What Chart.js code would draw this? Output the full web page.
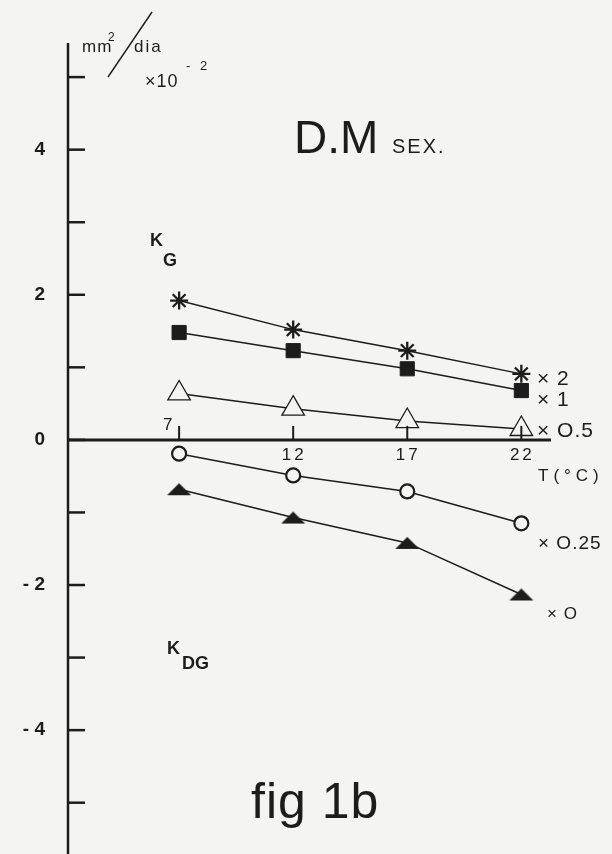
<!DOCTYPE html>
<html>
<head>
<meta charset="utf-8">
<script src="https://cdn.jsdelivr.net/npm/chart.js@4/dist/chart.umd.min.js"></script>
<style>
  html, body { margin: 0; padding: 0; background: #f4f4f2; }
  #wrap { width: 612px; height: 854px; }
</style>
</head>
<body>
<div id="wrap"><canvas id="c" width="612" height="854"></canvas></div>
<script>
// ---- data (K values, ×10^-2 mm²/dia) ----
const temps = [7, 12, 17, 22];
const kStar = [1.92, 1.52, 1.23, 0.91];       // × 2
const kSquare = [1.48, 1.23, 0.98, 0.68];     // × 1
const kOpenTri = [0.64, 0.43, 0.26, 0.15];    // × 0.5
const kCircle = [-0.19, -0.49, -0.71, -1.15]; // × 0.25
const kFilledTri = [-0.68, -1.07, -1.42, -2.13]; // × 0
const factorLabels = ['× 2', '× 1', '× O.5', '× O.25', '× O'];
const yTickValues = [-5, -4, -3, -2, -1, 0, 1, 2, 3, 4, 5];
const yLabelValues = [-4, -2, 0, 2, 4];
const yLabelTexts = ['- 4', '- 2', '0', '2', '4'];
const xTickLabels = ['7', '12', '17', '22'];

const INK = '#1c1c1c';
const BG = '#f4f4f2';

function pts(arr) { return temps.map((t, i) => ({ x: t, y: arr[i] })); }

// flat filled triangle marker
const flatTri = document.createElement('canvas');
flatTri.width = 26; flatTri.height = 14;
(function () {
  const c = flatTri.getContext('2d');
  c.fillStyle = INK;
  c.beginPath(); c.moveTo(1, 13); c.lineTo(25, 13); c.lineTo(13, 1); c.closePath(); c.fill();
})();

const axesPlugin = {
  id: 'axesPlugin',
  beforeDatasetsDraw(chart) {
    const { ctx, chartArea, scales: { x, y } } = chart;
    const left = chartArea.left, right = chartArea.right;
    ctx.save();
    ctx.strokeStyle = INK;
    ctx.lineCap = 'butt';
    // y axis
    ctx.lineWidth = 2.5;
    ctx.beginPath(); ctx.moveTo(left, chartArea.top); ctx.lineTo(left, chart.height); ctx.stroke();
    // y ticks (inward)
    yTickValues.forEach(v => {
      const py = y.getPixelForValue(v);
      ctx.beginPath(); ctx.moveTo(left, py); ctx.lineTo(left + 17, py); ctx.stroke();
    });
    // x axis at y = 0
    const p0 = y.getPixelForValue(0);
    ctx.lineWidth = 3;
    ctx.beginPath(); ctx.moveTo(left, p0); ctx.lineTo(right, p0); ctx.stroke();
    // y labels
    ctx.fillStyle = INK;
    ctx.font = 'bold 19px "Liberation Sans", Arial, sans-serif';
    ctx.textAlign = 'right'; ctx.textBaseline = 'middle';
    yLabelValues.forEach((v, i) => ctx.fillText(yLabelTexts[i], 45, y.getPixelForValue(v)));
    // x labels
    ctx.font = '17px "Liberation Sans", Arial, sans-serif';
    ctx.textAlign = 'center';
    ctx.letterSpacing = '3px';
    temps.forEach((t, i) => {
      const px = x.getPixelForValue(t);
      if (i === 0) ctx.fillText(xTickLabels[i], px - 10, p0 - 15);
      else ctx.fillText(xTickLabels[i], px + 1, p0 + 15);
    });
    ctx.restore();
  },
  afterDatasetsDraw(chart) {
    const { ctx, scales: { x, y } } = chart;
    const p0 = y.getPixelForValue(0);
    ctx.save();
    ctx.strokeStyle = INK; ctx.lineWidth = 2;
    temps.forEach(t => {
      const px = x.getPixelForValue(t);
      ctx.beginPath(); ctx.moveTo(px, p0); ctx.lineTo(px, p0 - 14); ctx.stroke();
    });
    ctx.restore();
  },
  afterDraw(chart) {
    const { ctx } = chart;
    ctx.save();
    ctx.fillStyle = INK; ctx.strokeStyle = INK;
    ctx.textAlign = 'left'; ctx.textBaseline = 'alphabetic';
    const F = '"Liberation Sans", Arial, sans-serif';
    // unit label
    ctx.font = '17px ' + F; ctx.letterSpacing = '1px';
    ctx.fillText('mm', 82, 52);
    ctx.font = '12px ' + F; ctx.fillText('2', 108, 41);
    ctx.font = '17px ' + F; ctx.letterSpacing = '2px';
    ctx.fillText('dia', 134, 52);
    ctx.lineWidth = 1.4;
    ctx.beginPath(); ctx.moveTo(108, 77); ctx.lineTo(152, 12); ctx.stroke();
    ctx.letterSpacing = '1px';
    ctx.font = '18px ' + F; ctx.fillText('×10', 145, 87);
    ctx.font = '13px ' + F; ctx.letterSpacing = '3px'; ctx.fillText('- 2', 186, 70);
    // title
    ctx.letterSpacing = '0px';
    ctx.font = '46px ' + F; ctx.fillText('D.M', 294, 153);
    ctx.font = '20px ' + F; ctx.letterSpacing = '2px'; ctx.fillText('SEX.', 392, 153);
    // K labels
    ctx.letterSpacing = '0px';
    ctx.font = 'bold 18px ' + F;
    ctx.fillText('K', 150, 246); ctx.fillText('G', 163, 266);
    ctx.fillText('K', 167, 654); ctx.fillText('DG', 182, 669);
    // factor labels
    ctx.font = '21px ' + F; ctx.textBaseline = 'middle'; ctx.letterSpacing = '1px';
    ctx.fillText(factorLabels[0], 537, 379);
    ctx.fillText(factorLabels[1], 537, 400);
    ctx.fillText(factorLabels[2], 537, 431);
    ctx.font = '19px ' + F;
    ctx.fillText(factorLabels[3], 538, 544);
    ctx.font = '17px ' + F;
    ctx.fillText(factorLabels[4], 547, 614);
    // T(°C)
    ctx.font = '17px ' + F; ctx.letterSpacing = '5px';
    ctx.fillText('T(°C)', 538, 476);
    // fig 1b
    ctx.letterSpacing = '1px';
    ctx.textBaseline = 'alphabetic';
    ctx.font = '50px ' + F; ctx.fillText('fig 1b', 251, 818);
    ctx.restore();
  }
};

const lineBase = { showLine: true, borderColor: INK, borderWidth: 1.5, pointBorderColor: INK };

new Chart(document.getElementById('c'), {
  type: 'scatter',
  data: {
    datasets: [
      { ...lineBase, label: 'K × 2', data: pts(kStar), pointStyle: 'star', pointRadius: 9, pointBorderWidth: 2.3 },
      { ...lineBase, label: 'K × 1', data: pts(kSquare), pointStyle: 'rect', pointRadius: 10, pointBackgroundColor: INK, pointBorderWidth: 1 },
      { ...lineBase, label: 'K × 0.5', data: pts(kOpenTri), pointStyle: 'triangle', pointRadius: 13, pointBackgroundColor: BG, pointBorderWidth: 1.3 },
      { label: 'dot', data: pts(kOpenTri), showLine: false, pointStyle: 'circle', pointRadius: 1.2, pointBackgroundColor: INK, pointBorderWidth: 0 },
      { ...lineBase, label: 'KDG × 0.25', data: pts(kCircle), pointStyle: 'circle', pointRadius: 7, pointBackgroundColor: BG, pointBorderWidth: 2.2 },
      { ...lineBase, label: 'KDG × 0', data: pts(kFilledTri), pointStyle: flatTri, pointRadius: 12 }
    ]
  },
  options: {
    responsive: false,
    animation: false,
    layout: { padding: { left: 68, top: 43, right: 61, bottom: 0 } },
    plugins: { legend: { display: false }, tooltip: { enabled: false }, title: { display: false } },
    scales: {
      x: { type: 'linear', min: 2.13, max: 23.3, display: false },
      y: { type: 'linear', min: -5.51, max: 5.47, display: false }
    }
  },
  plugins: [axesPlugin]
});
</script>
</body>
</html>
